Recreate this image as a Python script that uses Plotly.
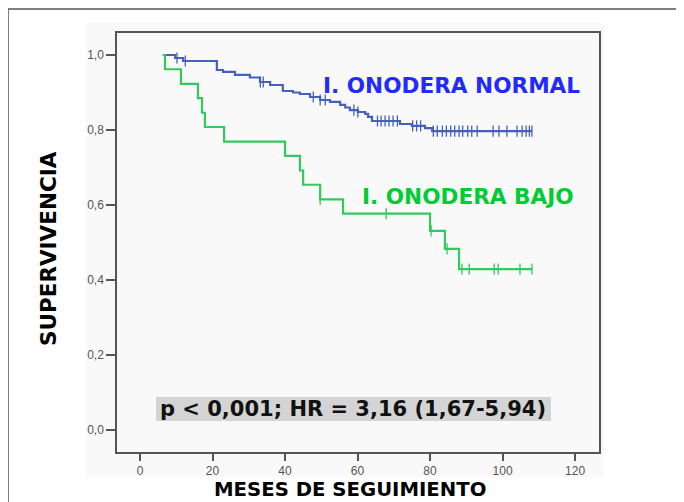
import numpy as np
import plotly.graph_objects as go

# ---- data ----
normal_t = [6.3, 9.7, 11.9, 21.2, 22.9, 26.2, 30.3, 33.1, 35.9, 39.4, 42.2, 44.1, 46.9, 49.7,
            52.4, 55.2, 56.6, 57.9, 60.1, 62.1, 62.9, 64.0, 71.7, 75.0, 78.6, 80.6, 108.1]
normal_s = [1.0, 0.992, 0.984, 0.96, 0.955, 0.947, 0.94, 0.928, 0.92, 0.904, 0.90, 0.896, 0.888, 0.880,
            0.875, 0.867, 0.86, 0.853, 0.848, 0.843, 0.835, 0.824, 0.816, 0.811, 0.805, 0.797, 0.797]
normal_cens = [10.2, 12.5, 33.2, 34.0, 47.8, 49.7, 51.1, 59.0, 60.1, 65.5, 66.5, 67.6, 68.7, 69.8, 71.0,
               75.2, 76.3, 77.4, 80.9, 82.0, 83.4, 84.5, 85.7, 86.8, 88.0, 89.0, 90.4, 91.5, 93.0,
               97.4, 99.0, 101.2, 104.0, 105.4, 106.5, 107.4, 108.1]

bajo_t = [6.3, 6.9, 11.3, 16.0, 17.1, 17.9, 23.2, 40.0, 44.1, 45.0, 49.7, 56.0, 80.0, 84.1, 88.0, 108.1]
bajo_s = [1.0, 0.962, 0.923, 0.885, 0.846, 0.808, 0.769, 0.731, 0.692, 0.654, 0.615, 0.577, 0.531, 0.483, 0.429, 0.429]
bajo_cens = [49.7, 67.9, 80.3, 84.7, 88.8, 90.8, 97.7, 98.8, 104.8, 108.1]

x_ticks = [0, 20, 40, 60, 80, 100, 120]
x_ticklabels = ["0", "20", "40", "60", "80", "100", "120"]
y_ticks = [0.0, 0.2, 0.4, 0.6, 0.8, 1.0]
y_ticklabels = ["0,0", "0,2", "0,4", "0,6", "0,8", "1,0"]

label_normal = "I. ONODERA NORMAL"
label_bajo = "I. ONODERA BAJO"
stats_text = "p < 0,001; HR = 3,16 (1,67-5,94)"
x_title = "MESES DE SEGUIMIENTO"
y_title = "SUPERVIVENCIA"

BLUE_LINE = "#4462bb"
GREEN_LINE = "#33c95e"
BLUE_TXT = "#1f2bff"
GREEN_TXT = "#00cc33"


def surv_at(times, surv, t):
    idx = np.searchsorted(np.array(times), np.array(t), side="right") - 1
    idx = np.clip(idx, 0, len(surv) - 1)
    return np.array(surv)[idx]


fig = go.Figure()
for t, s, c, cens in [(normal_t, normal_s, BLUE_LINE, normal_cens),
                      (bajo_t, bajo_s, GREEN_LINE, bajo_cens)]:
    fig.add_trace(go.Scatter(x=t, y=s, mode="lines", line=dict(color=c, width=2.2, shape="hv"),
                             showlegend=False, hoverinfo="skip"))
    fig.add_trace(go.Scatter(x=cens, y=surv_at(t, s, cens), mode="markers",
                             marker=dict(symbol="line-ns", size=8, line=dict(color=c, width=1.3)),
                             showlegend=False, hoverinfo="skip"))

# the page body has an 8px margin: work in page pixels and shift by OFF
OFF = 8
W, H = 684 - OFF, 502 - OFF
L, R, T, B = 117 - OFF, 599 - OFF, 33 - OFF, 452 - OFF


def px(x):
    return (x - OFF - L) / (R - L)


def py(y):
    return (B - (y - OFF)) / (B - T)


shapes = [
    # outer box (top and left visible)
    dict(type="rect", xref="paper", yref="paper", x0=px(8), x1=px(720), y0=py(540), y1=py(9),
         line=dict(color="#555555", width=1.5), fillcolor="white", layer="below"),
    # light chart region
    dict(type="rect", xref="paper", yref="paper", x0=px(86), x1=px(604), y0=py(477), y1=py(23),
         line=dict(width=0), fillcolor="#f9f9f9", layer="below"),
    # gray box behind stats
    dict(type="rect", xref="paper", yref="paper", x0=px(156), x1=px(551), y0=py(421), y1=py(397),
         line=dict(width=0), fillcolor="#d4d4d4", layer="above"),
]

bold = "DejaVu Sans"


def ann(text, x, y, size, color, angle=0):
    return dict(text="<b>%s</b>" % text, xref="paper", yref="paper", x=px(x), y=py(y),
                xanchor="center", yanchor="middle", showarrow=False, textangle=angle,
                font=dict(family=bold, size=size, color=color))


annotations = [
    ann(label_normal, 451, 85, 21.6, BLUE_TXT),
    ann(label_bajo, 468, 196, 21.6, GREEN_TXT),
    ann(stats_text, 353, 409, 21, "#111111"),
    ann(x_title, 350, 490, 19.7, "#000000"),
    ann(y_title, 48, 249, 21.5, "#000000", -90),
]

axis_common = dict(showgrid=False, zeroline=False, showline=True, mirror=True,
                   linecolor="#555555", linewidth=1.5, ticks="outside", tickcolor="#555555",
                   tickwidth=1.5, tickfont=dict(family="Liberation Sans", size=12, color="#555555"))

fig.update_layout(
    width=W, height=H,
    margin=dict(l=L, r=W - R, t=T, b=H - B, pad=0),
    paper_bgcolor="white", plot_bgcolor="#f0f0f0",
    shapes=shapes, annotations=annotations,
    xaxis=dict(range=[-6.34, 126.6], tickvals=x_ticks, ticktext=x_ticklabels, ticklen=7, **axis_common),
    yaxis=dict(range=[-0.0587, 1.0587], tickvals=y_ticks, ticktext=y_ticklabels, ticklen=9, **axis_common),
)

fig.write_html("out.html")
